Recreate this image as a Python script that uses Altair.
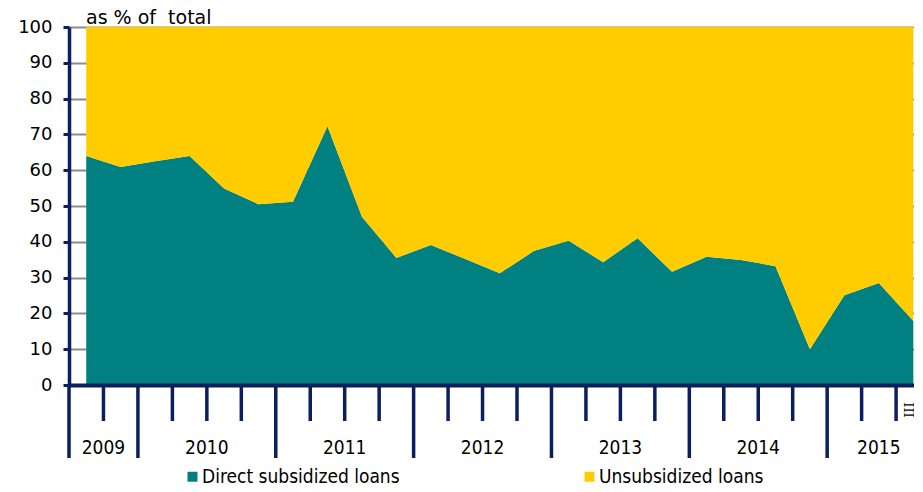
import altair as alt
import pandas as pd

# ---- data ----
years = [2009] * 2 + [2010] * 4 + [2011] * 4 + [2012] * 4 + [2013] * 4 + [2014] * 4 + [2015] * 3
quarters = [3, 4] + [1, 2, 3, 4] * 5 + [1, 2, 3]
direct = [64.0, 60.9, 62.5, 64.0, 54.9, 50.5, 51.2, 72.3, 47.0, 35.5, 39.1, 35.2, 31.2,
          37.5, 40.3, 34.3, 41.0, 31.6, 35.8, 34.9, 33.2, 10.0, 25.1, 28.5, 17.9]
series = ["Direct subsidized loans", "Unsubsidized loans"]
colors = ["#008080", "#FFCC00"]
last_label = "III"
title_text = "as % of\u00a0 total"
y_ticks = [0, 10, 20, 30, 40, 50, 60, 70, 80, 90, 100]

NAVY = "#0b1f5f"
GRID = "#8c8c8c"
W, H = 845, 358
COND = "DejaVu Sans Condensed, Liberation Sans Narrow, DejaVu Sans"

rows = []
for i, v in enumerate(direct):
    rows.append({"idx": i, "series": series[0], "share": v, "ord": 0})
    rows.append({"idx": i, "series": series[1], "share": 100 - v, "ord": 1})
df = pd.DataFrame(rows)

ticks = pd.DataFrame({
    "idx": [i - 0.5 for i in range(len(years))],
    "long": [(i == 0 or quarters[i] == 1) for i in range(len(years))],
})
df_long = ticks[ticks["long"]]
df_short = ticks[~ticks["long"]]

yr = pd.DataFrame({"year": years, "idx": list(range(len(years)))})
df_years = yr.groupby("year", as_index=False)["idx"].mean()
df_years["label"] = df_years["year"].astype(str)

df_last = pd.DataFrame({"idx": [len(years) - 1], "label": [last_label]})
df_title = pd.DataFrame({"t": [title_text]})

xscale = alt.Scale(domain=[-0.5, 24.02], nice=False, zero=False)
xaxis = alt.Axis(title=None, labels=False, ticks=False, grid=False, domain=True,
                 domainColor=NAVY, domainWidth=4, zindex=1)


def xenc():
    return alt.X("idx:Q", scale=xscale, axis=xaxis)


area = alt.Chart(df).mark_area(opacity=1).encode(
    x=xenc(),
    y=alt.Y("share:Q", stack="zero", scale=alt.Scale(domain=[0, 100], nice=False),
            axis=alt.Axis(title=None, values=y_ticks, grid=True, gridColor=GRID, gridWidth=1.8,
                          domainColor=NAVY, domainWidth=3.5, tickColor=NAVY, tickWidth=3,
                          tickSize=6, labelFont="DejaVu Sans", labelFontSize=18,
                          labelColor="#000000", labelPadding=11, zindex=0)),
    color=alt.Color("series:N", scale=alt.Scale(domain=series, range=colors),
                    legend=alt.Legend(title=None, orient="none", legendX=114, legendY=440,
                                      direction="horizontal", symbolType="square",
                                      symbolSize=100, symbolStrokeWidth=0, symbolOpacity=1,
                                      labelFont=COND, labelFontSize=19, labelColor="#000000",
                                      labelOffset=0, columnPadding=180, padding=0,
                                      labelLimit=400)),
    order=alt.Order("ord:Q"),
)

long_ticks = alt.Chart(df_long).mark_rule(color=NAVY, strokeWidth=3.5).encode(
    x=xenc(), y=alt.value(H), y2=alt.value(H + 73))
short_ticks = alt.Chart(df_short).mark_rule(color=NAVY, strokeWidth=3.5).encode(
    x=xenc(), y=alt.value(H), y2=alt.value(H + 36))

year_text = alt.Chart(df_years).mark_text(font=COND, fontSize=19, color="#000000",
                                          align="center", baseline="middle").encode(
    x=xenc(), y=alt.value(H + 63), text="label:N")

last_text = alt.Chart(df_last).mark_text(font="DejaVu Serif", fontSize=13, color="#000000",
                                         align="center", baseline="middle", angle=90,
                                         dy=5).encode(
    x=xenc(), y=alt.value(H + 25), text="label:N")

title = alt.Chart(df_title).mark_text(font="DejaVu Sans", fontSize=19, color="#000000",
                                      align="left", baseline="alphabetic").encode(
    x=alt.value(17), y=alt.value(-3), text="t:N")

chart = alt.layer(area, long_ticks, short_ticks, year_text, last_text, title).properties(
    width=W, height=H,
    autosize=alt.AutoSizeParams(type="none"),
    padding={"left": 61, "top": 19, "right": 0, "bottom": 99},
).configure_view(stroke=None).configure(background="#ffffff")

chart.save("out.html", embed_options={"renderer": "svg", "actions": False})
